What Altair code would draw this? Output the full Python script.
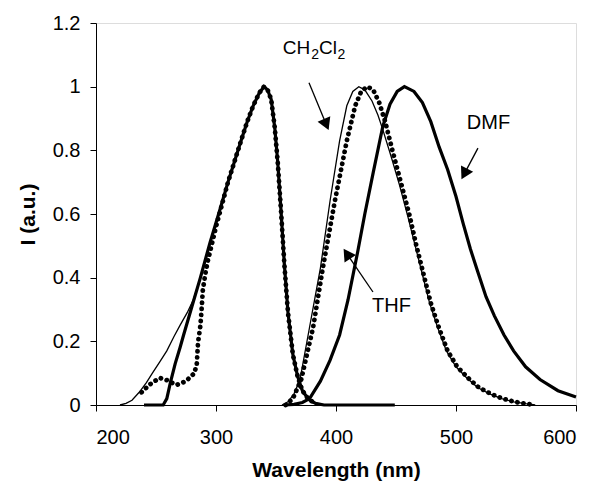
import altair as alt
import pandas as pd

# ---------------- data ----------------
# CH2Cl2 (thin line)
ch_abs_wl = [220, 225, 230, 236, 242, 247, 253, 259, 265, 270, 276, 281, 287, 295, 303, 310, 320, 326, 331, 336, 340,
             343, 346, 349, 351.5, 354, 357, 360, 364, 368, 372, 377, 383, 390]
ch_abs_i = [0.0, 0.005, 0.015, 0.04, 0.07, 0.10, 0.135, 0.17, 0.215, 0.25, 0.29, 0.33, 0.40, 0.51, 0.61, 0.70, 0.82, 0.89, 0.94, 0.98, 1.0,
            0.99, 0.96, 0.87, 0.76, 0.62, 0.44, 0.29, 0.16, 0.09, 0.045, 0.018, 0.005, 0.0]
ch_em_wl = [355, 360, 365, 370, 378, 387, 395, 403, 409, 414, 419, 424, 430, 435, 439, 446, 453, 460, 466, 472, 478,
            485, 492, 500, 509, 518, 528, 538, 548, 558, 566]
ch_em_i = [0.0, 0.01, 0.035, 0.08, 0.245, 0.43, 0.64, 0.83, 0.94, 0.985, 1.0, 0.99, 0.955, 0.91, 0.865, 0.78, 0.69, 0.59, 0.50, 0.41, 0.32,
           0.24, 0.17, 0.12, 0.085, 0.055, 0.035, 0.02, 0.01, 0.004, 0.0]

# THF (dotted)
thf_abs_wl = [238, 245, 253, 259, 267, 275, 282, 284, 285, 287, 288, 289, 291, 293, 300, 310, 320, 326, 331, 336, 340,
              343, 346, 349, 351.5, 354, 357, 360, 364, 368, 372, 377, 383]
thf_abs_i = [0.04, 0.065, 0.085, 0.078, 0.063, 0.075, 0.10, 0.13, 0.195, 0.25, 0.30, 0.36, 0.41, 0.45, 0.56, 0.70, 0.82, 0.89, 0.94, 0.98, 1.0,
             0.99, 0.96, 0.87, 0.76, 0.62, 0.44, 0.29, 0.16, 0.09, 0.045, 0.018, 0.005]
thf_em_wl = [358, 364, 371, 381, 389, 399, 409, 416, 421, 426, 431, 436, 441, 447, 454, 461, 467, 473, 479, 486, 493,
             501, 510, 519, 529, 539, 549, 558, 566]
thf_em_i = [0.0, 0.02, 0.08, 0.245, 0.43, 0.64, 0.83, 0.94, 0.985, 1.0, 0.99, 0.95, 0.89, 0.80, 0.70, 0.60, 0.50, 0.41, 0.32, 0.24, 0.17,
            0.12, 0.085, 0.055, 0.035, 0.02, 0.01, 0.004, 0.0]

# DMF (thick line)
dmf_abs_wl = [240, 250, 256, 259, 262, 266, 270, 273, 280, 287, 295, 303, 310, 320, 326, 331, 336, 340,
              343, 346, 349, 351.5, 354, 357, 360, 364, 368, 372, 377, 383, 390, 449]
dmf_abs_i = [0.0, 0.0, 0.0, 0.02, 0.07, 0.13, 0.18, 0.22, 0.31, 0.40, 0.51, 0.61, 0.70, 0.82, 0.89, 0.94, 0.98, 1.0,
             0.99, 0.96, 0.87, 0.76, 0.62, 0.44, 0.29, 0.16, 0.09, 0.045, 0.018, 0.005, 0.0, 0.0]
dmf_em_wl = [357, 365, 372, 378, 387, 395, 403, 410, 418, 424, 431, 439, 445, 451, 457, 465, 472, 479, 486, 493,
             500, 506, 512, 518, 525, 532, 540, 548, 558, 570, 585, 600]
dmf_em_i = [0.0, 0.002, 0.008, 0.02, 0.075, 0.14, 0.22, 0.33, 0.48, 0.60, 0.73, 0.875, 0.945, 0.985, 1.0, 0.985, 0.95, 0.89, 0.81, 0.74,
            0.655, 0.57, 0.49, 0.42, 0.34, 0.28, 0.22, 0.17, 0.12, 0.08, 0.045, 0.025]

# axis ticks
x_ticks = [200, 300, 400, 500, 600]
y_ticks = [0, 0.2, 0.4, 0.6, 0.8, 1.0, 1.2]

# annotations (data coordinates)
label_text = ["DMF", "THF"]
label_x = [509.0, 430.0]
label_y = [0.886, 0.311]
ch_main_text = ["CH", "Cl"]
ch_main_x = [355.6, 385.8]
ch_main_y = [1.121, 1.121]
ch_sub_text = ["2", "2"]
ch_sub_x = [379.4, 401.2]
ch_sub_y = [1.100, 1.100]
arrow_x1 = [377.5, 518.3, 430.8]
arrow_y1 = [1.012, 0.807, 0.355]
arrow_x2 = [391.9, 506.9, 409.1]
arrow_y2 = [0.881, 0.726, 0.475]
arrow_angle = [157, 208, 326]

# ---------------- build tables ----------------
def frame(wl, inten, part):
    return pd.DataFrame({"wl": wl, "I": inten, "part": part})

ch = pd.concat([frame(ch_abs_wl, ch_abs_i, "abs"), frame(ch_em_wl, ch_em_i, "em")])
thf = pd.concat([frame(thf_abs_wl, thf_abs_i, "abs"), frame(thf_em_wl, thf_em_i, "em")])
dmf = pd.concat([frame(dmf_abs_wl, dmf_abs_i, "abs"), frame(dmf_em_wl, dmf_em_i, "em")])

FONT = "Liberation Sans"

xs = alt.Scale(domain=[200, 600], nice=False, zero=False)
ys = alt.Scale(domain=[0, 1.2], nice=False)

x_enc = alt.X("wl:Q", scale=xs, axis=alt.Axis(
    title="Wavelength (nm)", values=x_ticks, format="d", grid=False,
    labelFontSize=20, titleFontSize=21, titleFontWeight="bold",
    tickSize=6, labelPadding=16, titlePadding=12,
    domainColor="black", tickColor="black", labelColor="black", titleColor="black",
    labelFont=FONT, titleFont=FONT))
y_enc = alt.Y("I:Q", scale=ys, axis=alt.Axis(
    title="I (a.u.)", values=y_ticks, format="~g", grid=False,
    labelFontSize=20, titleFontSize=21, titleFontWeight="bold",
    tickSize=6, labelPadding=10, titlePadding=14,
    domainColor="black", tickColor="black", labelColor="black", titleColor="black",
    labelFont=FONT, titleFont=FONT))

thin = alt.Chart(ch).mark_line(color="black", strokeWidth=1.3).encode(
    x=x_enc, y=y_enc, detail="part:N")
thick = alt.Chart(dmf).mark_line(color="black", strokeWidth=3.2).encode(
    x="wl:Q", y="I:Q", detail="part:N")
dots = alt.Chart(thf).mark_line(color="black", strokeWidth=4.8, strokeDash=[0.1, 6],
                                strokeCap="round").encode(
    x="wl:Q", y="I:Q", detail="part:N")

ann_lab = pd.DataFrame({"t": label_text, "x": label_x, "y": label_y})
ch_main = pd.DataFrame({"t": ch_main_text, "x": ch_main_x, "y": ch_main_y})
ch_sub = pd.DataFrame({"t": ch_sub_text, "x": ch_sub_x, "y": ch_sub_y})
arrows = pd.DataFrame({"x1": arrow_x1, "y1": arrow_y1, "x2": arrow_x2, "y2": arrow_y2, "a": arrow_angle})

labels = alt.Chart(ann_lab).mark_text(align="left", baseline="middle", fontSize=20,
                                      font=FONT, color="black").encode(
    x="x:Q", y="y:Q", text="t:N")
chm = alt.Chart(ch_main).mark_text(align="left", baseline="middle", fontSize=19,
                                   font=FONT, color="black").encode(
    x="x:Q", y="y:Q", text="t:N")
chs = alt.Chart(ch_sub).mark_text(align="left", baseline="middle", fontSize=14,
                                  font=FONT, color="black").encode(
    x="x:Q", y="y:Q", text="t:N")
arrow_lines = alt.Chart(arrows).mark_rule(color="black", strokeWidth=1.3).encode(
    x="x1:Q", y="y1:Q", x2="x2:Q", y2="y2:Q")
arrow_heads = alt.Chart(arrows).mark_point(shape="triangle-up", filled=True, size=190,
                                           color="black", opacity=1).encode(
    x="x2:Q", y="y2:Q", angle=alt.Angle("a:Q", scale=None))

chart = alt.layer(thin, thick, dots, arrow_lines, arrow_heads, labels, chm, chs).properties(
    width=480, height=382,
    autosize=alt.AutoSizeParams(type="none"),
    padding={"left": 88, "top": 15, "right": 10, "bottom": 80},
).configure_view(stroke="black", strokeWidth=1).configure(background="white")

chart.save("out.html", embed_options={"renderer": "svg", "actions": False})
